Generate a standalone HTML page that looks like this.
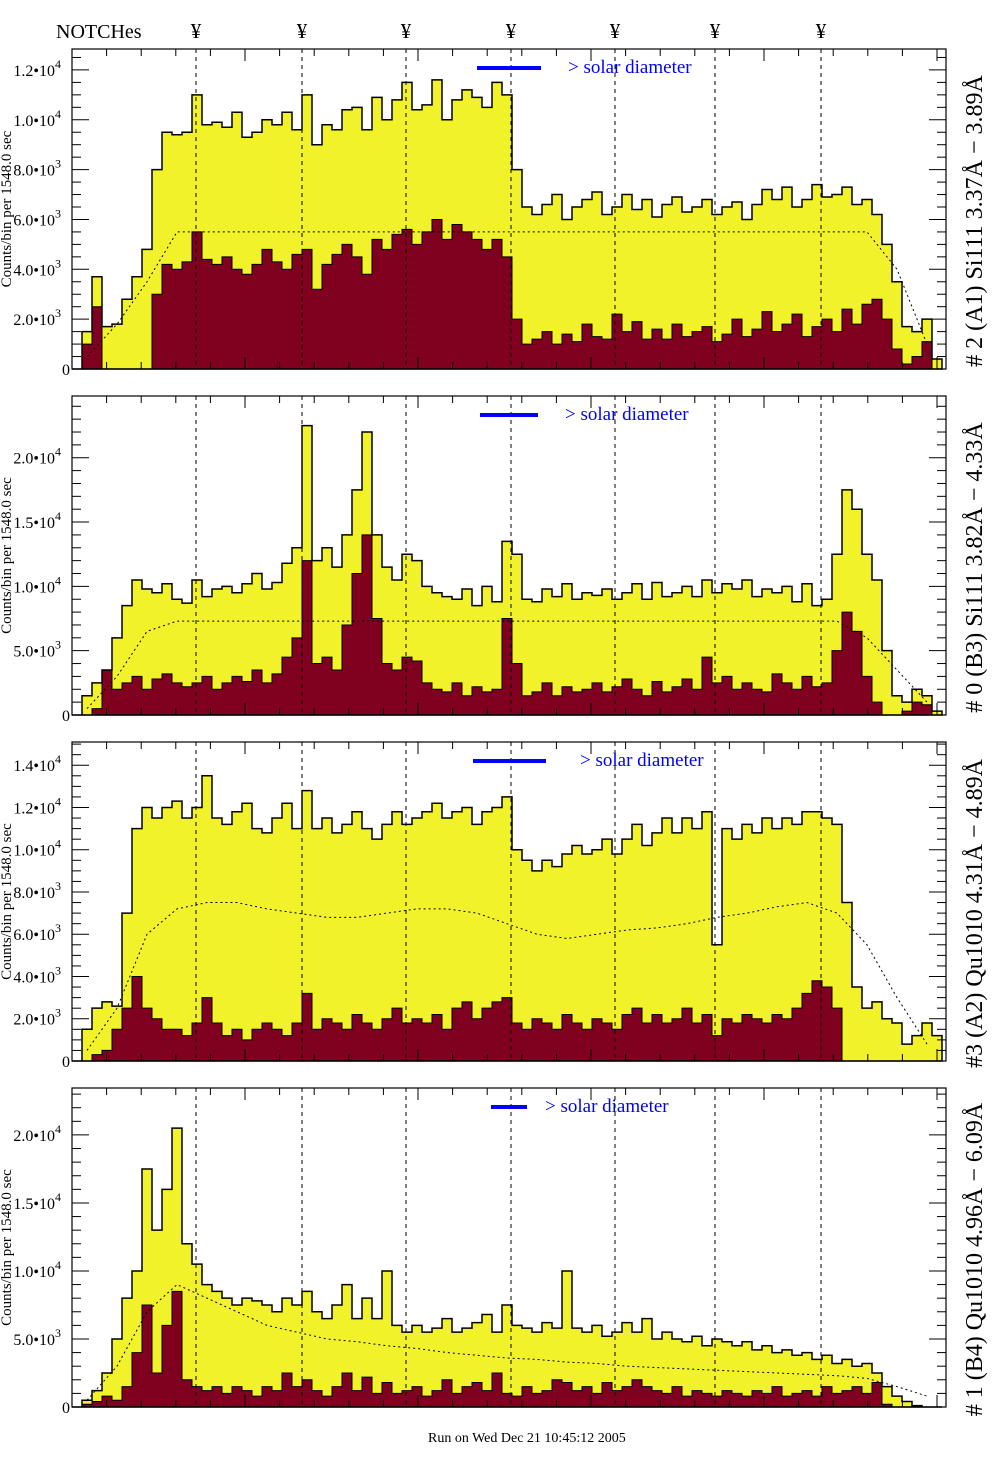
<!DOCTYPE html>
<html><head><meta charset="utf-8"><style>
body{margin:0;background:#fff;}
svg{display:block;font-family:"Liberation Serif",serif;}
</style></head><body>
<svg id="chart" width="1004" height="1476" viewBox="0 0 1004 1476" xmlns="http://www.w3.org/2000/svg">
<text x="56" y="38" font-size="20">NOTCHes</text>
</svg>
<script>
const notchX=[196,302,406,511,615,715,821];
const p1Total=[0,1500,3700,1700,1800,2800,3700,4800,8000,9500,9400,9500,11000,9800,9900,9700,10300,9300,9500,10000,9800,10300,9600,11000,9000,9800,9600,10400,10500,9600,10900,10000,10800,11500,10400,10600,11600,10000,10800,11200,10900,10500,11500,11000,8000,6500,6200,6600,7000,6000,6500,6800,7100,6200,6500,7000,6400,6800,6100,6600,6900,6300,6500,6800,6200,6500,6700,6000,6600,7200,6800,7300,6500,6800,7400,6900,7000,7300,6600,6800,6200,5000,3500,1700,1500,2000,400];
const p1Sub=[0,1000,2500,0,0,0,0,0,3000,4200,4000,4300,5500,4400,4200,4500,4000,3800,4200,4800,4300,4000,4600,4800,3200,4200,4600,5000,4500,3800,5200,4800,5400,5600,5000,5500,6000,5200,5800,5500,5200,4800,5200,4500,2000,1000,1200,1500,1000,1400,1100,1800,1300,1200,2200,1500,1900,1200,1600,1200,1800,1300,1500,1700,1100,1400,2000,1300,1600,2300,1500,1800,2200,1300,1700,2000,1500,2400,1800,2600,2800,2000,800,200,500,1100,0];
const p1Mean=[500,1800,3500,5500,5500,5500,5500,5500,5500,5500,5500,5500,5500,5500,5500,5500,5500,5500,5500,5500,5500,5500,5500,5500,5500,5500,5500,4000,1000];
const p2Total=[0,1500,2500,3500,6000,8500,10500,9800,9500,10200,9000,8700,10500,9200,9800,10000,9500,10200,11000,9800,10300,11800,13000,22500,12000,13000,11500,14000,17500,22000,14000,11500,10500,12500,12000,10000,9500,9200,9000,9800,8500,10000,8800,13500,12500,9000,8800,9800,9200,10200,9000,9500,9300,9800,9000,9500,10200,9000,10300,9200,9500,10000,9200,10500,9500,10200,9800,10500,9200,9800,9500,10000,8800,10200,8500,9000,12500,17500,16000,12500,10500,5000,1500,1000,2000,1500,300];
const p2Sub=[0,0,500,3500,2000,2500,3000,2000,2800,3200,2500,2200,2500,3000,2000,2500,3000,2600,3500,2500,3200,4500,6000,12000,4000,4500,3500,7000,11000,14000,7500,4000,3500,4500,4200,2500,2000,1800,2500,1500,2200,1800,2000,7500,4000,1500,1800,2500,1500,2200,1800,2000,2500,1800,2200,2800,2000,1500,2600,1800,2200,2800,2000,4500,2500,3000,2000,2500,2000,1800,3200,2500,2000,3000,2200,2500,5000,8000,6500,3000,1000,0,0,300,1000,800,0];
const p2Mean=[500,3000,6500,7300,7300,7300,7300,7300,7300,7300,7300,7300,7300,7300,7300,7300,7300,7300,7300,7300,7300,7300,7300,7300,7300,7300,6000,3500,1000];
const p3Total=[0,1500,2500,2800,2600,7000,11000,12000,11500,12000,12300,11500,12000,13500,11500,11200,11800,12200,11000,10800,11500,12200,11000,12800,11000,11500,10800,11200,11800,11000,10500,11200,11800,11200,11500,11800,12200,11500,11800,12000,11200,11800,12000,12500,10000,9500,9000,9500,9200,9800,10200,9800,10000,10500,9800,10500,11200,10200,10800,11500,10800,11500,11000,11800,5500,11000,10500,11200,10800,11500,11000,11500,11200,11800,11800,11500,11200,7500,3500,2500,2800,2000,1800,800,1200,1800,1200];
const p3Sub=[0,0,300,500,1500,2500,4000,2500,2000,1500,1500,1200,1800,3000,1800,1200,1500,1000,1500,1800,1500,1200,1800,3200,1500,2000,1800,1500,2200,1800,1500,2000,2500,1800,2000,1800,2200,1500,2500,2800,2000,2500,2800,3000,1800,1500,2000,1800,1500,2200,1800,1500,2000,1800,1500,2200,2500,1800,2200,1800,2000,2500,1800,2200,1200,2000,1800,2200,2000,1800,2200,2000,2500,3200,3800,3500,2500,0,0,0,0,0,0,0,0,0,0];
const p3Mean=[500,2500,6000,7200,7500,7500,7200,7000,6800,6800,7000,7200,7200,7000,6500,6000,5800,6000,6200,6300,6500,6800,7000,7300,7500,7000,5500,3000,800];
const p4Total=[0,500,1200,2500,5000,8000,10000,17500,13000,16000,20500,12000,10500,9000,8500,8000,7500,8000,7800,7500,7000,8000,7500,8500,7000,6500,7500,9000,6500,8000,6500,10000,6000,5500,6000,5500,5800,6500,5500,5800,6200,6800,5500,7500,6000,5800,5500,6200,5800,10000,5800,5500,6000,5200,5500,6200,5500,6500,5000,5500,5000,4800,5200,4500,5000,4800,4500,4800,4200,4500,4000,4200,3800,4000,3500,3800,3200,3500,3000,3200,2500,1500,800,400,100,0,0];
const p4Sub=[0,200,400,800,500,1500,4000,7500,2500,6000,8500,2000,1500,1200,1500,1000,1500,1200,800,1500,1200,2500,1500,2000,1200,800,1500,2500,1200,2200,1000,1800,1000,1200,1500,800,1200,2000,1000,1500,1800,1200,2500,1000,800,1500,1000,1200,2000,1800,1200,1500,1000,1800,1200,1500,2000,1500,1200,1000,1500,800,1200,1000,800,1200,1000,800,1200,1000,1500,800,1000,1200,800,1500,1000,1200,1500,1000,1800,200,0,0,0,0,0];
const p4Mean=[500,3000,7000,9000,8000,7000,6000,5500,5000,4800,4500,4300,4000,3800,3600,3500,3300,3200,3000,2900,2800,2700,2600,2500,2400,2300,2100,1500,800];
const p1Ticks=[[0,"0"],[2000,"2.0•10","3"],[4000,"4.0•10","3"],[6000,"6.0•10","3"],[8000,"8.0•10","3"],[10000,"1.0•10","4"],[12000,"1.2•10","4"]];
const p2Ticks=[[0,"0"],[5000,"5.0•10","3"],[10000,"1.0•10","4"],[15000,"1.5•10","4"],[20000,"2.0•10","4"]];
const p3Ticks=[[0,"0"],[2000,"2.0•10","3"],[4000,"4.0•10","3"],[6000,"6.0•10","3"],[8000,"8.0•10","3"],[10000,"1.0•10","4"],[12000,"1.2•10","4"],[14000,"1.4•10","4"]];
const p4Ticks=p2Ticks;
const panelTitles=["# 2 (A1) Si111  3.37Å − 3.89Å","# 0 (B3) Si111  3.82Å − 4.33Å","#3 (A2) Qu1010  4.31Å − 4.89Å","# 1 (B4) Qu1010 4.96Å − 6.09Å"];

const NS="http://www.w3.org/2000/svg";
const svg=document.getElementById('chart');
function mk(tag,attrs,parent){const e=document.createElementNS(NS,tag);for(const k in attrs)e.setAttribute(k,attrs[k]);(parent||svg).appendChild(e);return e;}
const X0=72,X1=946,BW=10;
function xScale(i){return X0+i*BW;}

notchX.forEach((x,i)=>{const t=mk('text',{x:x,y:38,'font-size':21,'text-anchor':'middle'});t.textContent='¥';

});

const panels=[
 {top:49,bot:369,max:12840,tot:p1Total,sub:p1Sub,mean:p1Mean,ticks:p1Ticks,minor:500,bar:[477,541],txt:568,title:panelTitles[0]},
 {top:396,bot:715,max:24800,tot:p2Total,sub:p2Sub,mean:p2Mean,ticks:p2Ticks,minor:1000,bar:[480,538],txt:565,title:panelTitles[1]},
 {top:742,bot:1061,max:15100,tot:p3Total,sub:p3Sub,mean:p3Mean,ticks:p3Ticks,minor:500,bar:[473,546],txt:580,title:panelTitles[2]},
 {top:1088,bot:1407,max:23450,tot:p4Total,sub:p4Sub,mean:p4Mean,ticks:p4Ticks,minor:1000,bar:[491,527],txt:545,title:panelTitles[3]}
];
panels.forEach((p,pi)=>{
 const g=mk('g',{});
 
 
 const y=v=>p.bot-(Math.min(v,p.max)/p.max)*(p.bot-p.top);
 function step(arr){let d='M'+xScale(0)+','+p.bot;arr.forEach((v,i)=>{d+=' L'+xScale(i)+','+y(v)+' L'+xScale(i+1)+','+y(v);});d+=' L'+xScale(arr.length)+','+p.bot+' Z';return d;}
 const a=mk('path',{d:step(p.tot),fill:'#f2f22a',stroke:'none'},g);
 
 
 const b=mk('path',{d:step(p.sub),fill:'#800020',stroke:'#000','stroke-width':1},g);
 
 
 const o=mk('path',{d:step(p.tot),fill:'none',stroke:'#000','stroke-width':1.5},g);
 
 
 let md='';p.mean.forEach((v,k)=>{const xx=xScale(3*k+1.5);md+=(k?' L':'M')+xx+','+y(v);});
 const m=mk('path',{d:md,fill:'none',stroke:'#000','stroke-width':1,'stroke-dasharray':'2,3'},g);
 
 
 notchX.forEach(x=>{const l=mk('line',{x1:x,x2:x,y1:p.top,y2:p.bot,stroke:'#000','stroke-width':1,'stroke-dasharray':'4,4'},g);
 
 });
 const fr=mk('rect',{x:X0,y:p.top,width:X1-X0,height:p.bot-p.top,fill:'none',stroke:'#000','stroke-width':1.2},g);
 
 
 for(let v=0;v<=p.max;v+=p.minor){const yy=y(v);const major=p.ticks.some(t=>t[0]===v);const len=major?17:9;
  mk('line',{x1:X0,x2:X0+len,y1:yy,y2:yy,stroke:'#000'},g);mk('line',{x1:X1-len,x2:X1,y1:yy,y2:yy,stroke:'#000'},g);}
 for(let k=0;X0+k*34.6<X1;k++){const xx=X0+k*34.6;const len=k%5===0?12:7;
  mk('line',{x1:xx,x2:xx,y1:p.top,y2:p.top+len,stroke:'#000'},g);mk('line',{x1:xx,x2:xx,y1:p.bot-len,y2:p.bot,stroke:'#000'},g);}
 p.ticks.forEach(t=>{const tx=mk('text',{x:t[2]?61:70,y:y(t[0])+6,'font-size':16,'text-anchor':'end'},g);tx.textContent=t[1];
  
  
  if(t[2]){const s=mk('tspan',{dy:-8,'font-size':12},tx);s.textContent=t[2];}});
 const yt=mk('text',{transform:`translate(11,${(p.top+p.bot)/2}) rotate(-90)`,'font-size':15,'text-anchor':'middle'},g);
 yt.textContent='Counts/bin per   1548.0 sec';
 
 
 const sb=mk('rect',{x:p.bar[0],y:p.top+17,width:p.bar[1]-p.bar[0],height:4,fill:'#0000ff'},g);
 
 
 const st=mk('text',{x:p.txt,y:p.top+24,'font-size':19,fill:'#0000ff'},g);st.textContent='> solar diameter';
 
 
 const rt=mk('text',{transform:`translate(982,${(p.top+p.bot)/2+12}) rotate(-90)`,'font-size':24,'text-anchor':'middle'},g);
 rt.textContent=p.title;
 
 
});
const ft=mk('text',{x:428,y:1442,'font-size':14});ft.textContent='Run on Wed Dec 21 10:45:12 2005';


</script>
</body></html>
